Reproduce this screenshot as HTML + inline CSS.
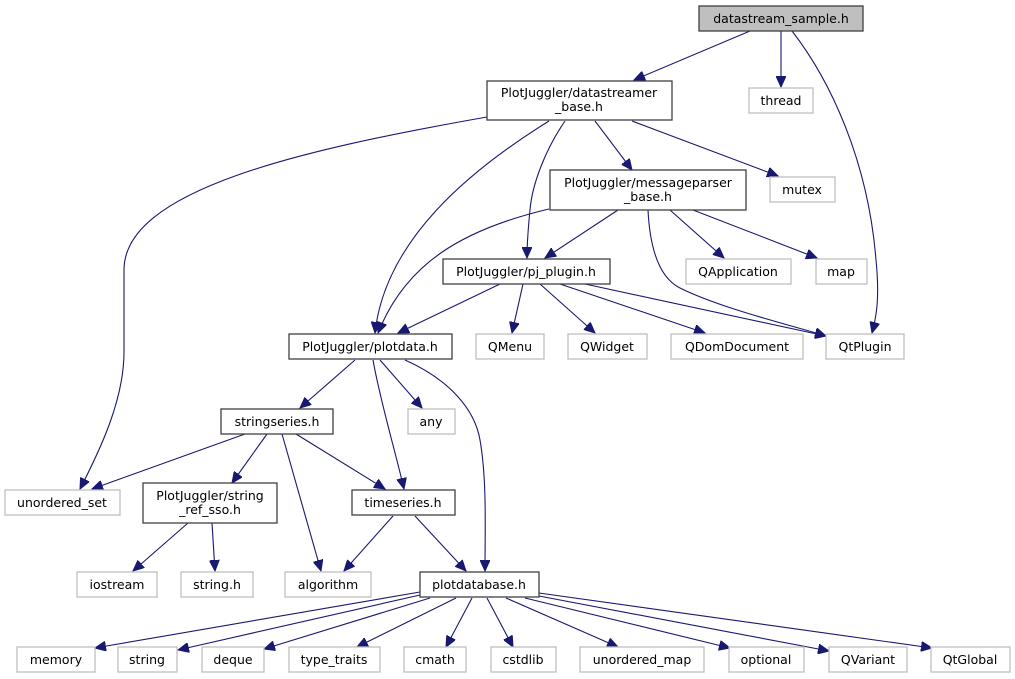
<!DOCTYPE html>
<html><head><meta charset="utf-8"><style>
html,body{margin:0;padding:0;background:#fff;}
svg{display:block;}
text{font-family:"DejaVu Sans","Liberation Sans",sans-serif;font-size:12.5px;fill:#000;text-anchor:middle;}
.m{fill:#fff;stroke:#404040;stroke-width:1.3;}
.g{fill:#fff;stroke:#bfbfbf;stroke-width:1.3;}
.e{fill:none;stroke:#191970;stroke-width:1.1;}
</style></head><body>
<svg width="1015" height="679" viewBox="0 0 1015 679" xmlns="http://www.w3.org/2000/svg">
<defs><marker id="a" markerUnits="userSpaceOnUse" markerWidth="12" markerHeight="10" refX="11" refY="5" orient="auto"><path d="M0,0 L11,5 L0,10 z" fill="#191970" stroke="#191970"/></marker></defs>
<g marker-end="url(#a)">
<path class="e" d="M750,31 L634,80"/>
<path class="e" d="M781,31 L781,87"/>
<path class="e" d="M792,31 C830,80 868,160 876,260 C880,300 876,318 872,333"/>
<path class="e" d="M487,117 C300,150 124,190 124,270 L124,352 C124,400 100,450 80,489"/>
<path class="e" d="M549,121 C470,170 385,240 375,333"/>
<path class="e" d="M565,121 C545,150 532,185 530,210 C528,230 527,245 527,258"/>
<path class="e" d="M595,121 L632,170"/>
<path class="e" d="M632,121 L778,176"/>
<path class="e" d="M549,209 C460,230 405,265 378,333"/>
<path class="e" d="M618,210 L545,258"/>
<path class="e" d="M648,210 C650,250 660,278 680,288 C720,308 790,325 826,336"/>
<path class="e" d="M670,210 L724,258"/>
<path class="e" d="M693,210 L817,258"/>
<path class="e" d="M500,284 L398,333"/>
<path class="e" d="M523,284 L512,333"/>
<path class="e" d="M540,284 L595,333"/>
<path class="e" d="M560,284 L705,333"/>
<path class="e" d="M585,284 L826,336"/>
<path class="e" d="M355,360 L300,408"/>
<path class="e" d="M373,360 C380,400 395,450 404,489"/>
<path class="e" d="M380,360 L422,408"/>
<path class="e" d="M405,360 C450,380 475,410 480,440 C487,480 485,530 485,571"/>
<path class="e" d="M245,434 L92,489"/>
<path class="e" d="M267,434 L232,483"/>
<path class="e" d="M282,434 L321,571"/>
<path class="e" d="M296,434 L385,489"/>
<path class="e" d="M188,523 L133,571"/>
<path class="e" d="M212,523 L215,571"/>
<path class="e" d="M393,516 L344,571"/>
<path class="e" d="M415,516 L466,571"/>
<path class="e" d="M420,592 L95,648"/>
<path class="e" d="M420,595 L178,650"/>
<path class="e" d="M430,598 L264,649"/>
<path class="e" d="M456,598 L357,647"/>
<path class="e" d="M472,598 L446,647"/>
<path class="e" d="M487,598 L513,647"/>
<path class="e" d="M506,598 L618,647"/>
<path class="e" d="M525,598 L730,648"/>
<path class="e" d="M539,596 L829,651"/>
<path class="e" d="M539,593 L932,648"/>
</g>
<rect x="699" y="6" width="164" height="25" fill="#bfbfbf" stroke="#404040" stroke-width="1.3"/><text x="781" y="23">datastream_sample.h</text>
<rect class="m" x="487" y="81" width="185" height="39"/><text x="579" y="97">PlotJuggler/datastreamer</text><text x="579" y="111">_base.h</text>
<rect class="g" x="749" y="88" width="64" height="25"/><text x="781" y="105">thread</text>
<rect class="m" x="550" y="170" width="196" height="40"/><text x="648" y="187">PlotJuggler/messageparser</text><text x="648" y="201">_base.h</text>
<rect class="g" x="770" y="177" width="65" height="25"/><text x="802" y="194">mutex</text>
<rect class="m" x="443" y="259" width="167" height="25"/><text x="526" y="276">PlotJuggler/pj_plugin.h</text>
<rect class="g" x="686" y="259" width="105" height="25"/><text x="738" y="276">QApplication</text>
<rect class="g" x="816" y="259" width="51" height="25"/><text x="841" y="276">map</text>
<rect class="m" x="289" y="334" width="163" height="25"/><text x="370" y="351">PlotJuggler/plotdata.h</text>
<rect class="g" x="476" y="334" width="68" height="25"/><text x="510" y="351">QMenu</text>
<rect class="g" x="568" y="334" width="79" height="25"/><text x="607" y="351">QWidget</text>
<rect class="g" x="671" y="334" width="132" height="25"/><text x="737" y="351">QDomDocument</text>
<rect class="g" x="826" y="334" width="78" height="25"/><text x="865" y="351">QtPlugin</text>
<rect class="m" x="221" y="409" width="112" height="25"/><text x="277" y="426">stringseries.h</text>
<rect class="g" x="408" y="409" width="47" height="25"/><text x="431" y="426">any</text>
<rect class="g" x="5" y="490" width="115" height="25"/><text x="62" y="507">unordered_set</text>
<rect class="m" x="143" y="483" width="134" height="40"/><text x="210" y="500">PlotJuggler/string</text><text x="210" y="514">_ref_sso.h</text>
<rect class="m" x="352" y="490" width="103" height="25"/><text x="403" y="507">timeseries.h</text>
<rect class="g" x="77" y="572" width="80" height="25"/><text x="117" y="589">iostream</text>
<rect class="g" x="181" y="572" width="72" height="25"/><text x="217" y="589">string.h</text>
<rect class="g" x="285" y="572" width="86" height="25"/><text x="328" y="589">algorithm</text>
<rect class="m" x="420" y="572" width="119" height="25"/><text x="479" y="589">plotdatabase.h</text>
<rect class="g" x="17" y="647" width="78" height="25"/><text x="56" y="664">memory</text>
<rect class="g" x="118" y="647" width="59" height="25"/><text x="147" y="664">string</text>
<rect class="g" x="202" y="647" width="62" height="25"/><text x="233" y="664">deque</text>
<rect class="g" x="289" y="647" width="91" height="25"/><text x="334" y="664">type_traits</text>
<rect class="g" x="404" y="647" width="62" height="25"/><text x="435" y="664">cmath</text>
<rect class="g" x="491" y="647" width="65" height="25"/><text x="523" y="664">cstdlib</text>
<rect class="g" x="580" y="647" width="124" height="25"/><text x="642" y="664">unordered_map</text>
<rect class="g" x="729" y="647" width="75" height="25"/><text x="766" y="664">optional</text>
<rect class="g" x="829" y="647" width="78" height="25"/><text x="868" y="664">QVariant</text>
<rect class="g" x="931" y="647" width="79" height="25"/><text x="970" y="664">QtGlobal</text>
</svg>
</body></html>
